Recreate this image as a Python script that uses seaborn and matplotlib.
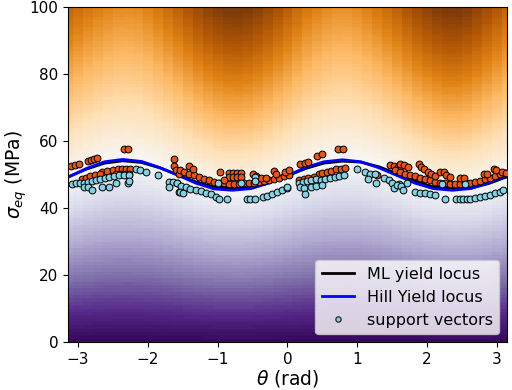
import numpy as np
import pandas as pd
import seaborn as sns
import matplotlib.pyplot as plt
from matplotlib.lines import Line2D

# yield loci (theta in rad, sigma_eq in MPa)
locus_theta = [-3.14, -2.88, -2.62, -2.36, -2.09, -1.83, -1.57, -1.31, -1.05,
               -0.79, -0.52, -0.26, 0.0, 0.26, 0.52, 0.79, 1.05, 1.31, 1.57,
               1.83, 2.09, 2.36, 2.62, 2.88, 3.14]
ml_locus = [49.3, 51.6, 53.4, 54.1, 53.6, 52.0, 49.9, 47.8, 46.3, 45.8, 46.1,
            47.6, 49.6, 51.8, 53.4, 54.0, 53.7, 52.3, 50.2, 48.0, 46.3, 45.7,
            45.9, 47.3, 49.3]
hill_locus = [49.2, 51.8, 53.8, 54.5, 53.9, 52.1, 49.8, 47.4, 45.7, 45.3, 45.8,
              47.5, 49.7, 52.1, 53.8, 54.4, 53.8, 52.0, 49.7, 47.4, 45.8, 45.3,
              45.8, 47.5, 49.8]
# colour level of the background at the top edge (sigma = 100), same thetas
top_level = [0.37, 0.33, 0.30, 0.28, 0.29, 0.33, 0.38, 0.44, 0.49, 0.52, 0.50,
             0.45, 0.39, 0.33, 0.29, 0.27, 0.29, 0.33, 0.38, 0.44, 0.49, 0.52,
             0.49, 0.43, 0.37]
bottom_level = -0.48

# samples above the locus (orange)
up_theta = [-3.10, -3.04, -2.98, -2.86, -2.81, -2.77, -2.73, -2.34, -2.29,
            -2.65, -2.58, -2.50, -2.43, -2.37, -2.31, -2.26,
            -2.94, -2.88, -2.83, -2.75, -2.69, -2.46, -2.39, -2.31, -2.27,
            -1.62, -1.62, -1.60, -1.55,
            -1.54, -1.48, -1.41, -1.34, -1.27, -1.20, -1.12, -1.05, -0.98, -0.91,
            -0.84, -0.77, -0.70, -0.62, -0.55, -0.48, -0.41, -0.34, -0.27, -0.20,
            -0.12, -0.05, 0.02,
            -1.41, -1.35, -0.96, -0.84, -0.78, -0.72, -0.67, -0.84, -0.78, -0.72,
            -0.67, -0.50, -0.45, -0.38, -0.31, -0.20, -0.17, -0.03, -0.91,
            0.02, 0.18, 0.25, 0.30, 0.42, 0.49, 0.73, 0.79,
            0.45, 0.50, 0.57, 0.63, 0.69, 0.76, 0.83,
            0.16, 0.23, 0.30, 0.38, 1.28, 1.47, 1.53, 1.58, 1.61,
            1.54, 1.61, 1.68, 1.76, 1.83, 1.90, 1.97, 2.04, 2.11, 2.19, 2.26,
            2.33, 2.40, 2.47, 2.54, 2.61, 2.69, 2.76, 2.83, 2.90, 2.97, 3.04, 3.11,
            1.61, 1.67, 1.73, 1.88, 1.91, 1.96, 2.01, 2.06, 2.11, 2.19, 2.24,
            2.27, 2.33, 2.47, 2.53, 2.81, 2.86, 2.95, 2.99, 3.07, 3.13]
up_sigma = [52.5, 52.8, 53.1, 54.1, 54.4, 54.7, 55.0, 57.5, 57.5,
            50.8, 51.0, 51.3, 51.5, 51.6, 51.7, 51.7,
            48.8, 49.1, 49.5, 49.8, 50.1, 50.3, 50.3, 50.3, 50.3,
            54.5, 52.5, 51.3, 50.3,
            51.3, 50.8, 50.3, 49.8, 49.3, 48.8, 48.3, 47.9, 47.6, 47.4,
            47.3, 47.3, 47.3, 47.4, 47.5, 47.6, 47.8, 48.1, 48.4, 48.7,
            49.1, 49.5, 49.9,
            52.5, 51.7, 50.8, 50.6, 50.6, 50.6, 50.6, 49.3, 49.3, 49.3,
            49.3, 50.3, 49.6, 49.1, 48.9, 51.1, 50.1, 50.8, 48.5,
            51.3, 53.1, 53.5, 53.8, 55.5, 56.1, 57.5, 57.5,
            50.3, 50.6, 50.8, 51.1, 51.5, 51.7, 51.8,
            48.3, 48.6, 49.0, 49.3, 49.8, 52.8, 52.5, 52.1, 51.5,
            51.3, 50.8, 50.3, 49.9, 49.5, 49.1, 48.7, 48.3, 47.9, 47.6, 47.4,
            47.3, 47.3, 47.3, 47.4, 47.5, 47.8, 48.2, 48.6, 49.1, 49.6, 50.1, 50.5,
            53.1, 52.7, 52.1, 53.1, 52.3, 51.5, 50.8, 50.3, 49.5, 50.8, 50.8,
            49.9, 49.2, 48.9, 48.9, 50.3, 50.3, 51.5, 51.3, 50.8, 50.5]

# samples below the locus (light blue)
low_theta = [-3.08, -3.03, -2.97, -2.91, -2.86, -2.80, -2.74, -2.69, -2.62,
             -2.55, -2.48, -2.41, -2.34, -2.27,
             -2.91, -2.86, -2.80, -2.65, -2.55, -2.46, -2.29, -2.27,
             -2.17, -2.11, -2.03, -1.86, -1.69, -1.64, -1.69, -1.58, -1.55,
             -1.58, -1.53, -1.54, -1.50, -1.45, -1.39, -1.31, -1.24, -1.17, -1.10,
             -1.03, -0.98, -0.86, -1.00, -0.67, -0.47, -0.46, -0.58, -0.53, -0.47,
             -0.35, -0.29, -0.22, -0.15, -0.08, 0.00,
             -0.01, 0.16, 0.22, 0.28, 0.34, 0.41, 0.48, 0.54, 0.61, 0.68, 0.74,
             0.81, 0.18, 0.23, 0.25, 0.33, 0.41, 0.49, 0.99, 1.11, 1.18, 1.26,
             1.16, 1.27, 1.38, 1.45, 1.50, 1.52, 1.59,
             1.57, 1.63, 1.66, 1.71, 1.83, 1.90, 1.97, 2.04, 2.11, 2.26, 2.42,
             2.47, 2.52, 2.57, 2.61, 2.69, 2.76, 2.83, 2.90, 2.97, 3.04, 3.09,
             2.21, 2.54]
low_sigma = [47.1, 47.4, 47.6, 47.4, 47.7, 48.1, 48.4, 48.6, 48.9,
             49.2, 49.6, 49.8, 49.9, 50.0,
             46.4, 46.4, 45.4, 46.4, 46.4, 47.6, 47.6, 48.2,
             51.5, 51.3, 50.8, 49.9, 47.8, 47.8, 46.4, 47.4, 44.9,
             47.4, 46.6, 44.9, 44.4, 46.2, 45.8, 45.4, 45.0, 44.6, 44.1,
             43.4, 42.8, 42.6, 47.6, 47.4, 49.2, 48.2, 42.8, 42.8, 42.8,
             43.4, 43.7, 44.1, 44.7, 45.4, 45.9,
             46.4, 47.6, 47.9, 48.2, 48.4, 48.6, 48.4, 48.7, 49.0, 49.3, 49.6,
             49.8, 46.4, 45.9, 44.3, 46.4, 46.6, 46.9, 51.5, 50.8, 50.3, 50.1,
             48.6, 47.6, 48.9, 48.4, 47.6, 45.9, 47.2,
             46.9, 46.6, 45.4, 47.4, 44.9, 44.6, 44.4, 44.2, 44.0, 42.6, 42.6,
             42.6, 42.6, 42.6, 42.6, 42.9, 43.2, 43.6, 43.9, 44.4, 44.9, 45.4,
             47.3, 47.3]

# background: signed distance from the ML locus, scaled to the edge levels
grid_theta = np.linspace(-np.pi, np.pi, 45)
grid_sigma = np.linspace(0.5, 99.5, 100)
TT, SS = np.meshgrid(grid_theta, grid_sigma)
loc = np.interp(TT, locus_theta, ml_locus)
top = np.interp(TT, locus_theta, top_level)
field = np.where(SS >= loc, (SS - loc) / (100 - loc) * top,
                 (loc - SS) / loc * bottom_level)

fig, ax = plt.subplots(figsize=(5.12, 3.9), dpi=100)
fig.subplots_adjust(left=0.133, right=0.99, bottom=0.123, top=0.982)

ax.pcolormesh(grid_theta, grid_sigma, field, cmap='PuOr_r', vmin=-0.5, vmax=0.5,
              shading='nearest')

sns.lineplot(x=locus_theta, y=ml_locus, color='black', lw=2, sort=False,
             estimator=None, ax=ax)
sns.lineplot(x=locus_theta, y=hill_locus, color='blue', lw=2, sort=False,
             estimator=None, ax=ax)

up = pd.DataFrame({'theta': up_theta, 'sigma': up_sigma})
low = pd.DataFrame({'theta': low_theta, 'sigma': low_sigma})
sns.scatterplot(data=up, x='theta', y='sigma', color='#e4571c', s=24,
                edgecolor='black', linewidth=0.7, ax=ax, zorder=3)
sns.scatterplot(data=low, x='theta', y='sigma', color='#86d0e2', s=24,
                edgecolor='black', linewidth=0.7, ax=ax, zorder=3)

ax.set_xlim(-np.pi, np.pi)
ax.set_ylim(0, 100)
ax.set_xticks([-3, -2, -1, 0, 1, 2, 3])
ax.tick_params(labelsize=11)
ax.set_xlabel(r'$\theta$ (rad)', fontsize=13.5, labelpad=1)
ax.set_ylabel(r'$\sigma_{eq}$ (MPa)', fontsize=13.5, labelpad=0)

handles = [Line2D([], [], color='black', lw=2),
           Line2D([], [], color='blue', lw=2),
           Line2D([], [], ls='', marker='o', markersize=3.8,
                  markerfacecolor='#86d0e2', markeredgecolor='#333333')]
ax.legend(handles, ['ML yield locus', 'Hill Yield locus', 'support vectors'],
          loc='lower right', fontsize=11.5)

fig.savefig('out.png', dpi=100)
